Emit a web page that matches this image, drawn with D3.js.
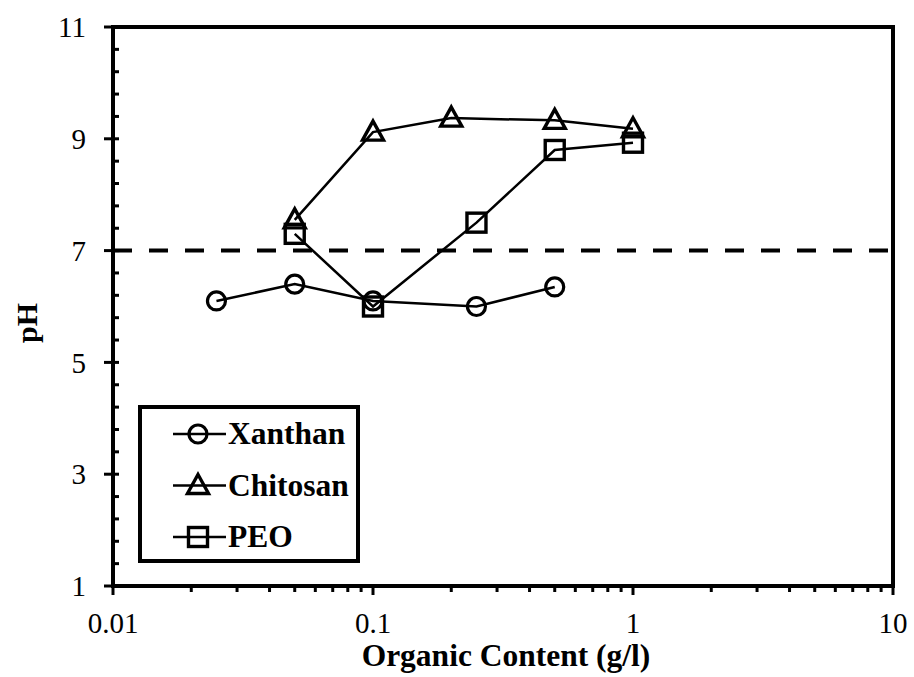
<!DOCTYPE html>
<html>
<head>
<meta charset="utf-8">
<script src="https://cdn.jsdelivr.net/npm/d3@7"></script>
<style>
  html, body { margin: 0; padding: 0; background: #fff; }
  svg { display: block; }
  text { font-family: "Liberation Serif", "Times New Roman", serif; fill: #000; }
</style>
</head>
<body>
<svg id="chart" width="914" height="677"></svg>
<script>
// Organic content (g/l) and measured pH for each polymer
const xanthanConc = [0.025, 0.05, 0.1, 0.25, 0.5];
const xanthanPH   = [6.1, 6.4, 6.1, 6.0, 6.35];
const chitosanConc = [0.05, 0.1, 0.2, 0.5, 1.0];
const chitosanPH   = [7.55, 9.12, 9.37, 9.33, 9.18];
const peoConc = [0.05, 0.1, 0.25, 0.5, 1.0];
const peoPH   = [7.3, 6.0, 7.5, 8.8, 8.93];
const seriesNames = ["Xanthan", "Chitosan", "PEO"];
const seriesMarkers = ["circle", "triangle", "square"];
const neutralPH = 7;
const xTickValues = [0.01, 0.1, 1, 10];
const xTickLabels = ["0.01", "0.1", "1", "10"];
const yTickValues = [1, 3, 5, 7, 9, 11];

const series = [
  { name: seriesNames[0], marker: seriesMarkers[0], xs: xanthanConc, ys: xanthanPH },
  { name: seriesNames[1], marker: seriesMarkers[1], xs: chitosanConc, ys: chitosanPH },
  { name: seriesNames[2], marker: seriesMarkers[2], xs: peoConc, ys: peoPH }
];

const svg = d3.select("#chart");
const plotL = 113, plotR = 893, plotT = 27, plotB = 586;

const x = d3.scaleLog().domain([0.01, 10]).range([plotL, plotR]);
const y = d3.scaleLinear().domain([1, 11]).range([plotB, plotT]);

// minor ticks
const xMinor = [];
[0.01, 0.1, 1].forEach(d => { for (let k = 2; k <= 9; k++) xMinor.push(d * k); });
const yMinor = d3.range(1, 11.001, 0.4).filter(v => !yTickValues.some(t => Math.abs(t - v) < 0.01));

const g = svg.append("g");

// x axis ticks (outward)
g.selectAll(".xminor").data(xMinor).join("line")
  .attr("x1", d => x(d)).attr("x2", d => x(d))
  .attr("y1", plotB).attr("y2", plotB + 6)
  .attr("stroke", "#000").attr("stroke-width", 3);
g.selectAll(".xmajor").data(xTickValues).join("line")
  .attr("x1", d => x(d)).attr("x2", d => x(d))
  .attr("y1", plotB).attr("y2", plotB + 9)
  .attr("stroke", "#000").attr("stroke-width", 3);
g.selectAll(".xlab").data(xTickValues).join("text")
  .attr("x", d => x(d)).attr("y", 633)
  .attr("text-anchor", "middle").attr("font-size", 29)
  .text((d, i) => xTickLabels[i]);

// y axis ticks (minor inward, major crossing)
g.selectAll(".yminor").data(yMinor).join("line")
  .attr("x1", plotL).attr("x2", plotL + 6)
  .attr("y1", d => y(d)).attr("y2", d => y(d))
  .attr("stroke", "#000").attr("stroke-width", 3);
g.selectAll(".ymajor").data(yTickValues).join("line")
  .attr("x1", plotL - 9).attr("x2", plotL + 6)
  .attr("y1", d => y(d)).attr("y2", d => y(d))
  .attr("stroke", "#000").attr("stroke-width", 3);
g.selectAll(".ylab").data(yTickValues).join("text")
  .attr("x", 86).attr("y", d => y(d)).attr("dy", "0.35em")
  .attr("text-anchor", "end").attr("font-size", 29)
  .text(d => d);

// neutral pH reference line
g.append("line")
  .attr("x1", plotL).attr("x2", plotR)
  .attr("y1", y(neutralPH)).attr("y2", y(neutralPH))
  .attr("stroke", "#000").attr("stroke-width", 4)
  .attr("stroke-dasharray", "19,17");

// series lines
const line = d3.line().x(d => x(d[0])).y(d => y(d[1]));
series.forEach(s => {
  const pts = s.xs.map((v, i) => [v, s.ys[i]]);
  g.append("path").attr("d", line(pts))
    .attr("fill", "none").attr("stroke", "#000").attr("stroke-width", 2.5);
});

function drawMarker(sel, type, cx, cy) {
  if (type === "circle") {
    sel.append("circle").attr("cx", cx).attr("cy", cy).attr("r", 9)
      .attr("fill", "none").attr("stroke", "#000").attr("stroke-width", 3.2);
  } else if (type === "square") {
    sel.append("rect").attr("x", cx - 9.5).attr("y", cy - 9.5)
      .attr("width", 19).attr("height", 19)
      .attr("fill", "none").attr("stroke", "#000").attr("stroke-width", 3.4);
  } else {
    sel.append("path")
      .attr("d", `M${cx},${cy - 11}L${cx + 10.5},${cy + 8}L${cx - 10.5},${cy + 8}Z`)
      .attr("fill", "none").attr("stroke", "#000").attr("stroke-width", 3.4)
      .attr("stroke-linejoin", "miter");
  }
}

series.forEach(s => {
  s.xs.forEach((v, i) => drawMarker(g, s.marker, x(v), y(s.ys[i])));
});

// plot frame
g.append("rect")
  .attr("x", plotL).attr("y", plotT)
  .attr("width", plotR - plotL).attr("height", plotB - plotT)
  .attr("fill", "none").attr("stroke", "#000").attr("stroke-width", 4);

// legend
const leg = g.append("g");
leg.append("rect")
  .attr("x", 140).attr("y", 407).attr("width", 218).attr("height", 154)
  .attr("fill", "#fff").attr("stroke", "#000").attr("stroke-width", 4);
series.forEach((s, i) => {
  const ry = 434 + i * 51.5;
  leg.append("line").attr("x1", 173).attr("x2", 226)
    .attr("y1", ry).attr("y2", ry)
    .attr("stroke", "#000").attr("stroke-width", 2.5);
  drawMarker(leg, s.marker, 198, ry);
  leg.append("text").attr("x", 228).attr("y", ry).attr("dy", "0.33em")
    .attr("font-size", 31.5).attr("font-weight", "bold").text(s.name);
});

// axis titles
g.append("text")
  .attr("x", 506).attr("y", 666)
  .attr("text-anchor", "middle").attr("font-size", 31.5).attr("font-weight", "bold")
  .text("Organic Content (g/l)");
g.append("text")
  .attr("transform", "translate(37,323) rotate(-90)")
  .attr("text-anchor", "middle").attr("font-size", 30).attr("font-weight", "bold")
  .text("pH");
</script>
</body>
</html>
